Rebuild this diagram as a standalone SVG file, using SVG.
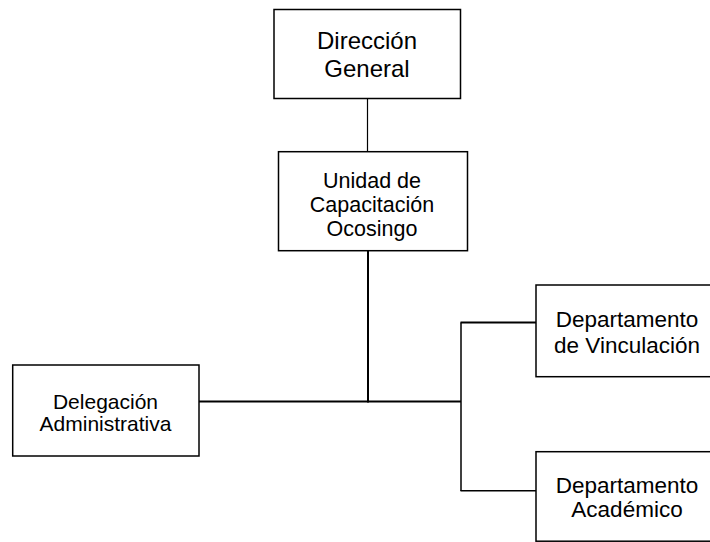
<svg xmlns="http://www.w3.org/2000/svg" width="710" height="542" viewBox="0 0 710 542">
<style>
.box{fill:#fff;stroke:#000;stroke-width:1.5}
.t{font-family:"Liberation Sans",Arial,sans-serif;fill:#000;text-anchor:middle}
.c{fill:none;stroke:#000;stroke-linecap:butt}
</style>
<rect width="710" height="542" fill="#fff"/>
<g id="connectors">
<line class="c" x1="367.5" y1="98.5" x2="367.5" y2="151.7" stroke-width="1.2"/>
<line class="c" x1="368" y1="251" x2="368" y2="402.5" stroke-width="2"/>
<line class="c" x1="199" y1="401.5" x2="461" y2="401.5" stroke-width="2"/>
<line class="c" x1="461" y1="322.5" x2="461" y2="491" stroke-width="1.5"/>
<line class="c" x1="460.5" y1="322.5" x2="536" y2="322.5" stroke-width="2"/>
<line class="c" x1="460.5" y1="490.7" x2="536" y2="490.7" stroke-width="1.5"/>
</g>
<g id="direccion">
<rect class="box" x="274" y="9.5" width="186.5" height="89"/>
<text class="t" font-size="24" x="367" y="49.3">Dirección</text>
<text class="t" font-size="24" x="367" y="76.7">General</text>
</g>
<g id="unidad">
<rect class="box" x="278.5" y="151.7" width="189" height="99"/>
<text class="t" font-size="21.5" x="372" y="188.3">Unidad de</text>
<text class="t" font-size="21.5" x="372" y="211.7">Capacitación</text>
<text class="t" font-size="21.5" x="372" y="236">Ocosingo</text>
</g>
<g id="delegacion">
<rect class="box" x="12.7" y="365" width="186.3" height="91"/>
<text class="t" font-size="21" x="105.5" y="408.5">Delegación</text>
<text class="t" font-size="21" x="105.5" y="430.5">Administrativa</text>
</g>
<g id="vinculacion">
<rect class="box" x="536" y="285" width="190" height="91.7"/>
<text class="t" font-size="22.5" x="627" y="327.3">Departamento</text>
<text class="t" font-size="22.5" x="627" y="353.3">de Vinculación</text>
</g>
<g id="academico">
<rect class="box" x="536" y="451.7" width="190" height="89.5"/>
<text class="t" font-size="22.5" x="627" y="493.3">Departamento</text>
<text class="t" font-size="22.5" x="627" y="517.3">Académico</text>
</g>
</svg>
